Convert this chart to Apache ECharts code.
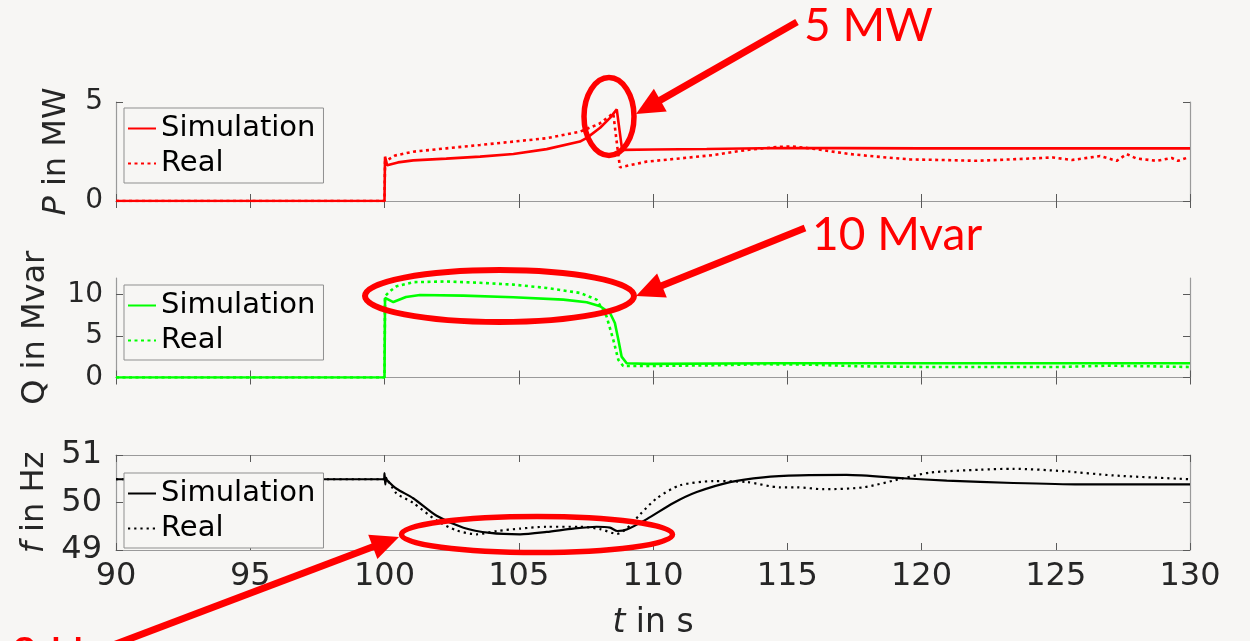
<!DOCTYPE html>
<html><head><meta charset="utf-8">
<script src="https://cdn.jsdelivr.net/npm/echarts@6/dist/echarts.min.js"></script>
<style>html,body{margin:0;padding:0;background:#f7f6f4}#c{width:1250px;height:641px}</style>
</head><body><div id="c"></div>
<script>
// ---------- data ----------
const xTicks = [90, 95, 100, 105, 110, 115, 120, 125, 130];
const legendLabels = ['Simulation', 'Real'];

// P in MW
const tPSim = [90, 100, 100.01, 100.02, 100.1, 100.5, 101.07, 102.3, 103.56, 104.8, 106.04, 107.28, 107.55, 108.03, 108.4, 108.65, 108.85, 110, 112, 114.7, 117, 120, 125, 130];
const pSim  = [0, 0, 1.2, 2.24, 1.8, 1.95, 2.05, 2.14, 2.24, 2.37, 2.62, 3.0, 3.2, 3.7, 4.2, 4.63, 2.58, 2.6, 2.63, 2.68, 2.67, 2.66, 2.66, 2.66];
const tPReal = [90, 100, 100.02, 100.4, 101.07, 102.3, 103.56, 104.8, 106.04, 107.28, 108.0, 108.52, 108.67, 108.77, 109.77, 111.0, 112.25, 113.5, 114.73, 115.2, 115.85, 116.47, 117.34, 118.33, 119.57, 120.8, 122.06, 123.3, 124.9, 125.6, 126.65, 127.27, 127.64, 128.0, 128.76, 129.32, 129.55, 129.93];
const pReal  = [0, 0, 1.99, 2.3, 2.49, 2.66, 2.83, 3.0, 3.17, 3.5, 3.9, 4.43, 2.74, 1.7, 1.99, 2.15, 2.32, 2.58, 2.74, 2.75, 2.66, 2.54, 2.37, 2.24, 2.1, 2.07, 2.03, 2.1, 2.2, 2.07, 2.27, 2.03, 2.37, 2.15, 2.03, 2.17, 2.03, 2.2];

// Q in Mvar
const tQSim = [90, 100, 100.02, 100.33, 100.8, 101.32, 102.94, 104.8, 106.66, 107.53, 108.03, 108.4, 108.58, 108.71, 108.83, 109.02, 109.77, 114.73, 120, 125, 130];
const qSim  = [0, 0, 9.6, 9.1, 9.7, 9.95, 9.88, 9.68, 9.39, 9.07, 8.59, 7.78, 6.57, 4.55, 2.52, 1.72, 1.64, 1.72, 1.72, 1.72, 1.72];
const tQReal = [90, 100, 100.02, 100.2, 100.45, 101.07, 102.3, 103.56, 104.8, 106.04, 107.28, 107.9, 108.27, 108.52, 108.71, 108.89, 109.77, 112.25, 113.99, 115.85, 117.71, 120.19, 125.16, 127.0, 130];
const qReal  = [0, 0, 9.8, 10.4, 11.0, 11.5, 11.58, 11.42, 11.2, 10.8, 10.2, 9.39, 7.37, 4.55, 2.12, 1.39, 1.39, 1.47, 1.6, 1.55, 1.35, 1.27, 1.27, 1.43, 1.27];

// f in Hz
const tFSim = [90, 99.98, 100.0, 100.03, 100.06, 100.1, 100.45, 101.07, 101.94, 102.94, 103.93, 105.05, 106.04, 107.03, 107.9, 108.4, 108.67, 109.02, 109.77, 110.76, 111.63, 112.87, 114.11, 115.47, 117.21, 119.32, 120.94, 123.42, 125.9, 130];
const fSim  = [50.49, 50.49, 50.62, 50.38, 50.52, 50.47, 50.29, 50.09, 49.72, 49.47, 49.36, 49.33, 49.38, 49.45, 49.49, 49.47, 49.4, 49.43, 49.65, 49.99, 50.22, 50.43, 50.53, 50.57, 50.58, 50.51, 50.46, 50.41, 50.38, 50.38];
const tFReal = [90, 100, 100.45, 101.07, 101.94, 102.69, 103.43, 104.18, 105.05, 106.04, 107.28, 108.03, 108.65, 109.02, 109.52, 110.14, 111.0, 112.25, 113.5, 114.73, 115.35, 116.34, 117.84, 119.32, 120.32, 122.18, 123.42, 125.28, 127.14, 130];
const fReal  = [50.49, 50.49, 50.19, 49.99, 49.62, 49.41, 49.33, 49.4, 49.45, 49.49, 49.49, 49.44, 49.34, 49.45, 49.75, 50.09, 50.36, 50.45, 50.43, 50.32, 50.32, 50.28, 50.32, 50.51, 50.63, 50.69, 50.71, 50.66, 50.57, 50.49];

// ---------- chart ----------
const BG = '#f7f6f4';
const FONT = 'DejaVu Sans';
const BOX = '#9a9a9a';
const TICK = '#5a5a5a';
const zip = (a, b) => a.map((v, i) => [v, b[i]]);

const grids = [
  { left: 116, right: 60, top: 102, height: 99 },
  { left: 116, right: 60, top: 278, height: 99.5 },
  { left: 116, right: 60, top: 455, height: 99 }
];

const xAxes = [], yAxes = [];
const yCfg = [
  { min: 0, max: 5, vals: [0, 5], name: '{i|P} in MW', gap: 43, fs: 28, lm: 13 },
  { min: 0, max: 12, vals: [0, 5, 10], name: 'Q in Mvar', gap: 64, fs: 28, lm: 13 },
  { min: 49, max: 51, vals: [49, 50, 51], name: '{i|f} in Hz', gap: 64, fs: 32, lm: 14 }
];
for (let g = 0; g < 3; g++) {
  const common = { type: 'value', gridIndex: g, min: 90, max: 130, interval: 5, splitLine: { show: false },
    axisLine: { show: true, lineStyle: { color: BOX, width: 1.2 } },
    axisTick: { show: true, inside: true, length: 7, lineStyle: { color: TICK, width: 1 }, customValues: xTicks } };
  xAxes.push(Object.assign({}, common, {
    position: 'bottom',
    axisLabel: { show: g === 2, fontFamily: FONT, fontSize: 32, color: '#262626', margin: 11, customValues: xTicks },
    name: g === 2 ? '{i|t} in s' : '', nameLocation: 'middle', nameGap: 57,
    nameTextStyle: { fontFamily: FONT, fontSize: 33, color: '#262626', rich: { i: { fontFamily: FONT, fontSize: 33, fontStyle: 'italic', color: '#262626' } } }
  }));
  xAxes.push(Object.assign({}, common, { position: 'top', axisLabel: { show: false } }));
  const c = yCfg[g];
  const yc = { type: 'value', gridIndex: g, min: c.min, max: c.max, splitLine: { show: false },
    axisLine: { show: true, lineStyle: { color: BOX, width: 1.2 } },
    axisTick: { show: true, inside: true, length: 7, lineStyle: { color: TICK, width: 1 }, customValues: c.vals } };
  yAxes.push(Object.assign({}, yc, {
    position: 'left',
    axisLabel: { fontFamily: FONT, fontSize: c.fs, color: '#262626', margin: c.lm, customValues: c.vals },
    name: c.name, nameLocation: 'middle', nameGap: c.gap,
    nameTextStyle: { fontFamily: FONT, fontSize: 32, color: '#262626', rich: { i: { fontFamily: FONT, fontSize: 32, fontStyle: 'italic', color: '#262626' } } }
  }));
  yAxes.push(Object.assign({}, yc, { position: 'right', axisLabel: { show: false } }));
}

const panels = [
  { key: 'P', color: '#ff0000', sim: zip(tPSim, pSim), real: zip(tPReal, pReal), w: 2.6, dash: [3, 3.5], smooth: false },
  { key: 'Q', color: '#00ff00', sim: zip(tQSim, qSim), real: zip(tQReal, qReal), w: 2.6, dash: [3, 3.5], smooth: false },
  { key: 'f', color: '#000000', sim: zip(tFSim, fSim), real: zip(tFReal, fReal), w: 2.2, dash: [2.2, 4], smooth: 0.25 }
];
const series = [];
panels.forEach((p, g) => {
  series.push({ type: 'line', name: p.key + '|' + legendLabels[0], xAxisIndex: 2 * g, yAxisIndex: 2 * g,
    data: p.sim, symbol: 'none', smooth: p.smooth, clip: true,
    lineStyle: { color: p.color, width: p.w, type: 'solid' }, itemStyle: { color: p.color } });
  series.push({ type: 'line', name: p.key + '|' + legendLabels[1], xAxisIndex: 2 * g, yAxisIndex: 2 * g,
    data: p.real, symbol: 'none', smooth: p.smooth, clip: true,
    lineStyle: { color: p.color, width: p.w, type: p.dash }, itemStyle: { color: p.color } });
});

const legendTops = [108, 285, 473];
const legends = panels.map((p, g) => ({
  data: legendLabels.map(l => p.key + '|' + l),
  left: 124, top: legendTops[g], orient: 'vertical',
  itemWidth: 28, itemHeight: 14, itemGap: 0,
  padding: [3, 8, 2, 3],
  borderColor: '#8f8f8f', borderWidth: 1, backgroundColor: BG,
  selectedMode: false,
  itemStyle: { opacity: 0 },
  formatter: n => n.split('|')[1],
  textStyle: { fontFamily: FONT, fontSize: 29, color: '#000', lineHeight: 35 }
}));

// ---------- annotations (red ellipses, arrows, labels) ----------
const RED = '#ff0000';
function arrow(x1, y1, x2, y2) {
  const L = 28, W = 13;
  const dx = x2 - x1, dy = y2 - y1, d = Math.hypot(dx, dy);
  const ux = dx / d, uy = dy / d;
  const bx = x2 - ux * L, by = y2 - uy * L;
  return [
    { type: 'line', z: 100, shape: { x1: x1, y1: y1, x2: bx + ux * 3, y2: by + uy * 3 }, style: { stroke: RED, lineWidth: 7 } },
    { type: 'polygon', z: 100, shape: { points: [[x2, y2], [bx - uy * W, by + ux * W], [bx + uy * W, by - ux * W]] }, style: { fill: RED } }
  ];
}
function ell(cx, cy, rx, ry, lw) {
  return { type: 'ellipse', z: 100, shape: { cx: cx, cy: cy, rx: rx, ry: ry }, style: { fill: null, stroke: RED, lineWidth: lw } };
}
function label(text, x, y) {
  return { type: 'text', z: 100, x: x, y: y, style: { text: text, fill: RED, fontFamily: 'Lato', fontSize: 46, verticalAlign: 'middle', align: 'left' } };
}
const graphic = [].concat(
  [ell(609, 116.5, 25, 39, 5.5), ell(499.5, 296, 134.5, 26, 6), ell(537, 534.5, 135.5, 18, 5.5)],
  arrow(797, 22, 636, 114),
  arrow(805, 228, 636, 296),
  arrow(100, 650, 399, 537),
  [label('5 MW', 804, 26), label('10 Mvar', 812, 235), label('2 Hz', 11, 655)]
);

const chart = echarts.init(document.getElementById('c'), null, { renderer: 'canvas' });
chart.setOption({
  backgroundColor: BG,
  animation: false,
  grid: grids,
  xAxis: xAxes,
  yAxis: yAxes,
  legend: legends,
  series: series,
  graphic: graphic
});
</script>
</body></html>
